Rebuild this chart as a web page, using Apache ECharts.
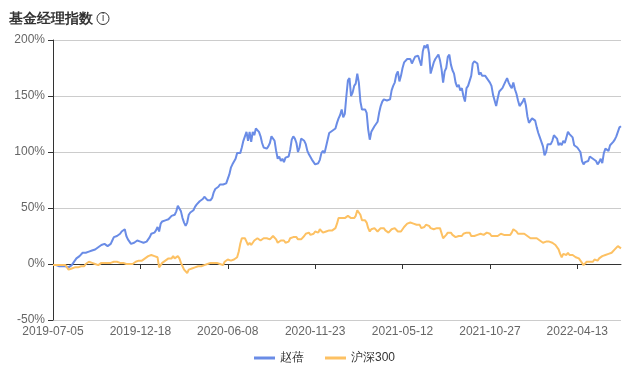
<!DOCTYPE html>
<html>
<head>
<meta charset="utf-8">
<script src="https://cdn.jsdelivr.net/npm/echarts@6/dist/echarts.min.js"></script>
<style>
  html, body { margin: 0; padding: 0; background: #fff; }
  #chart { width: 633px; height: 378px; }
</style>
</head>
<body>
<div id="chart"></div>
<script>
  // trading calendar (every 2nd trading day is plotted)
  const startDate = '2019-07-05'
  const tradingDayCount = 729
  const holidays = [
    '2019-09-13', '2019-10-01', '2019-10-02', '2019-10-03', '2019-10-04', '2019-10-07',
    '2020-01-01', '2020-01-24', '2020-01-27', '2020-01-28', '2020-01-29', '2020-01-30', '2020-01-31',
    '2020-04-06', '2020-05-01', '2020-05-04', '2020-05-05', '2020-06-25', '2020-06-26',
    '2020-10-01', '2020-10-02', '2020-10-05', '2020-10-06', '2020-10-07', '2020-10-08',
    '2021-01-01', '2021-02-11', '2021-02-12', '2021-02-15', '2021-02-16', '2021-02-17',
    '2021-04-05', '2021-05-03', '2021-05-04', '2021-05-05', '2021-06-14', '2021-09-20', '2021-09-21',
    '2021-10-01', '2021-10-04', '2021-10-05', '2021-10-06', '2021-10-07',
    '2022-01-03', '2022-01-31', '2022-02-01', '2022-02-02', '2022-02-03', '2022-02-04',
    '2022-04-04', '2022-04-05', '2022-05-02', '2022-05-03', '2022-05-04', '2022-06-03'
  ]

  // 赵蓓 (%)
  const managerValues = [
    -1, -1, -1, -1, -2, -1, -2, -2, -2, -3, -3, -3, -1, 1, 3, 5, 6, 7, 8, 10,
    10, 10, 11, 11, 11, 12, 13, 13, 14, 15, 16, 17, 18, 18, 17, 16, 15, 18, 21, 24,
    25, 25, 26, 27, 29, 30, 31, 25, 22, 20, 18, 17, 19, 20, 21, 21, 20, 19, 19, 19,
    20, 21, 24, 27, 28, 28, 30, 33, 29, 36, 38, 39, 39, 40, 40, 41, 43, 42, 44, 47,
    52, 52, 47, 41, 37, 34, 37, 44, 46, 46, 48, 51, 53, 54, 56, 57, 58, 60, 59, 57,
    57, 57, 59, 64, 67, 68, 69, 71, 72, 71, 71, 72, 73, 80, 86, 89, 90, 94, 99, 98,
    99, 104, 110, 114, 118, 110, 118, 109, 118, 115, 121, 122, 118, 114, 108, 104, 105, 103, 105, 108,
    114, 113, 110, 101, 94, 96, 92, 94, 91, 95, 95, 96, 102, 111, 114, 112, 108, 100, 104, 112,
    111, 110, 107, 101, 98, 98, 93, 92, 89, 88, 90, 93, 99, 101, 99, 105, 111, 117, 117, 119,
    120, 121, 126, 130, 133, 138, 131, 134, 150, 164, 166, 150, 153, 159, 161, 170, 162, 145, 138, 139,
    138, 135, 120, 111, 118, 117, 123, 124, 127, 135, 141, 145, 147, 146, 146, 146, 147, 155, 159, 162,
    169, 172, 163, 168, 175, 180, 180, 183, 182, 183, 179, 182, 185, 184, 186, 185, 177, 190, 195, 193,
    196, 188, 170, 170, 180, 183, 185, 187, 182, 174, 162, 172, 175, 185, 187, 178, 173, 170, 162, 158,
    160, 155, 157, 150, 145, 157, 159, 159, 168, 179, 181, 180, 179, 169, 171, 168, 169, 168, 166, 164,
    162, 159, 151, 146, 141, 148, 154, 154, 157, 157, 163, 166, 162, 159, 157, 162, 156, 152, 146, 141,
    142, 145, 148, 142, 132, 126, 128, 130, 130, 128, 122, 117, 113, 109, 105, 97, 100, 107, 108, 107,
    110, 115, 114, 112, 106, 108, 106, 110, 108, 113, 118, 116, 117, 113, 106, 106, 104, 104, 100, 92,
    89, 91, 90, 92, 96, 97, 94, 94, 92, 89, 91, 94, 90, 99, 103, 102, 101, 106, 105, 109,
    111, 114, 115, 122, 123
  ]

  // 沪深300 (%)
  const indexValues = [
    -1, -1, -1, -1, -1, -1, -1, -1, -1, -3, -5, -5, -4, -4, -3, -3, -3, -2, -2, -3,
    -2, 0, 1, 2, 2, 1, 1, 0, 0, -1, -1, 1, 2, 1, 1, 1, 1, 1, 2, 2,
    3, 2, 1, 1, 1, 1, 1, 0, 0, 0, -1, 0, 1, 2, 3, 3, 3, 3, 4, 5,
    6, 7, 7, 8, 8, 7, 7, 6, -3, -1, 1, 2, 3, 4, 5, 4, 5, 7, 5, 6,
    7, 5, 1, -2, -5, -6, -8, -5, -4, -4, -3, -3, -3, -2, -2, -2, -1, -1, -1, 0,
    1, 1, 2, 1, 1, 1, 1, 0, -1, -1, 2, 3, 4, 4, 3, 4, 4, 5, 6, 11,
    18, 23, 24, 23, 20, 17, 19, 17, 19, 21, 22, 23, 22, 21, 22, 23, 22, 23, 22, 22,
    23, 25, 24, 22, 19, 20, 21, 20, 21, 19, 19, 20, 23, 24, 24, 23, 24, 22, 22, 22,
    23, 25, 27, 27, 28, 26, 27, 27, 29, 28, 28, 31, 30, 28, 27, 29, 29, 30, 29, 30,
    31, 32, 36, 41, 42, 41, 42, 41, 41, 43, 44, 41, 40, 41, 43, 48, 48, 44, 39, 39,
    39, 37, 32, 29, 31, 31, 32, 31, 29, 30, 32, 33, 32, 30, 29, 28, 29, 31, 31, 32,
    31, 29, 30, 29, 31, 33, 33, 36, 37, 37, 36, 36, 35, 35, 34, 35, 32, 31, 33, 35,
    36, 34, 32, 32, 31, 32, 32, 31, 32, 31, 23, 24, 26, 28, 29, 28, 26, 25, 24, 25,
    25, 24, 25, 27, 26, 28, 29, 28, 25, 25, 25, 25, 26, 26, 27, 26, 26, 27, 28, 28,
    27, 25, 25, 25, 26, 25, 26, 27, 26, 26, 27, 26, 25, 26, 28, 31, 31, 29, 27, 28,
    27, 28, 27, 26, 25, 24, 23, 24, 23, 22, 23, 22, 21, 20, 19, 20, 20, 20, 20, 20,
    19, 18, 17, 16, 13, 9, 6, 9, 10, 8, 10, 8, 9, 8, 7, 6, 6, 5, 3, 1,
    -1, 0, 2, 2, 2, 3, 2, 4, 4, 3, 5, 6, 7, 7, 8, 8, 9, 10, 10, 11,
    13, 14, 16, 15, 14
  ]

  const seriesNames = ['赵蓓', '沪深300']
  const yTicks = { min: -50, max: 200, step: 50 }

  function buildDates() {
    var out = []
    var d = new Date(startDate + 'T00:00:00Z')
    while (out.length < tradingDayCount) {
      var s = d.toISOString().slice(0, 10)
      var wd = d.getUTCDay()
      if (wd !== 0 && wd !== 6 && holidays.indexOf(s) < 0) out.push(s)
      d.setUTCDate(d.getUTCDate() + 1)
    }
    return out
  }
  const dates = buildDates().filter(function(_, i) { return i % 2 === 0 })

  var labelColor = '#666'
  var axisColor = '#333'

  var chart = echarts.init(document.getElementById('chart'))
  chart.setOption({
    animation: false,
    color: ['#6a8ce6', '#fdc163'],
    title: {
      text: '基金经理指数',
      left: 9,
      top: 12,
      padding: 0,
      textStyle: { fontSize: 14, fontWeight: 'bold', color: '#333' }
    },
    graphic: [{
      type: 'circle',
      shape: { cx: 103, cy: 18.5, r: 6 },
      style: { fill: 'none', stroke: '#333', lineWidth: 1 }
    }, {
      type: 'text',
      x: 103,
      y: 18.5,
      style: { text: 'i', fontSize: 10, fill: '#333', align: 'center', verticalAlign: 'middle' }
    }],
    legend: {
      data: seriesNames,
      left: 254,
      top: 352,
      padding: 0,
      icon: 'rect',
      itemWidth: 21,
      itemHeight: 3,
      itemGap: 21,
      textStyle: { fontSize: 12, color: '#333' }
    },
    grid: { left: 53, right: 12, top: 40, bottom: 58 },
    xAxis: [{
      type: 'category',
      data: dates,
      boundaryGap: false,
      axisLine: { onZero: true, lineStyle: { color: axisColor } },
      axisTick: { interval: 55, length: 5, lineStyle: { color: axisColor } },
      axisLabel: { show: false },
      splitLine: { show: false }
    }, {
      type: 'category',
      data: dates,
      boundaryGap: false,
      position: 'bottom',
      axisLine: { show: false, onZero: false },
      axisTick: { show: false },
      axisLabel: { interval: 55, color: labelColor, fontSize: 12, margin: 6 },
      splitLine: { show: false }
    }],
    yAxis: {
      type: 'value',
      min: yTicks.min,
      max: yTicks.max,
      interval: yTicks.step,
      axisLine: { show: true, lineStyle: { color: axisColor } },
      axisTick: { show: true, lineStyle: { color: axisColor } },
      axisLabel: { formatter: '{value}%', color: labelColor, fontSize: 12 },
      splitLine: { lineStyle: { color: '#ccc' } }
    },
    series: [{
      name: seriesNames[0],
      type: 'line',
      xAxisIndex: 0,
      data: managerValues,
      symbol: 'none',
      lineStyle: { width: 2 }
    }, {
      name: seriesNames[1],
      type: 'line',
      xAxisIndex: 0,
      data: indexValues,
      symbol: 'none',
      lineStyle: { width: 2 }
    }]
  })
</script>
</body>
</html>
